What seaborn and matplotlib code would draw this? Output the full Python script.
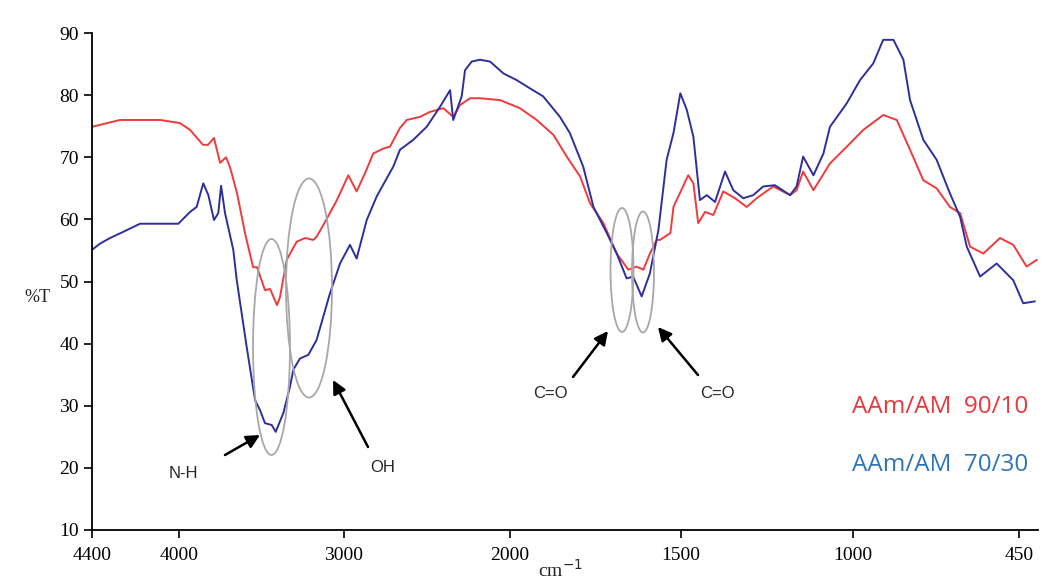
import numpy as np
import pandas as pd
import seaborn as sns
import matplotlib.pyplot as plt
from matplotlib.patches import Ellipse

# FTIR spectra (wavenumber cm-1, %T)
red_wn = [4400, 4271, 4087, 3994, 3933, 3855, 3824, 3788, 3751, 3715, 3691, 3648, 3600,
          3551, 3527, 3479, 3448, 3406, 3388, 3347, 3287, 3236, 3186, 3166, 3125, 3043,
          2974, 2924, 2874, 2824, 2763, 2723, 2663, 2622, 2542, 2482, 2402, 2342, 2301,
          2241, 2181, 2060, 1971, 1922, 1873, 1834, 1795, 1766, 1727, 1688, 1654, 1630,
          1610, 1591, 1571, 1561, 1531, 1522, 1479, 1464, 1450, 1430, 1406, 1377, 1343,
          1309, 1280, 1232, 1183, 1164, 1145, 1115, 1067, 1018, 966, 900, 855, 811, 767,
          723, 679, 645, 612, 568, 513, 469, 430, 403]
red_t = [74.9, 76.0, 76.0, 75.5, 74.4, 72.0, 72.0, 73.1, 69.1, 70.0, 68.4, 64.2, 57.8,
         52.3, 52.3, 48.6, 48.8, 46.2, 47.5, 53.5, 56.4, 57.0, 56.7, 57.2, 59.1, 63.1,
         67.1, 64.5, 67.4, 70.6, 71.4, 71.7, 74.7, 76.0, 76.5, 77.3, 77.9, 76.5, 78.4,
         79.5, 79.5, 79.2, 77.9, 76.0, 73.6, 70.1, 66.9, 62.6, 59.4, 54.5, 51.9, 52.4,
         51.9, 54.5, 56.7, 56.7, 57.8, 62.0, 67.1, 65.8, 59.4, 61.2, 60.7, 64.5, 63.4,
         62.0, 63.4, 65.3, 63.9, 64.7, 67.7, 64.7, 69.0, 71.7, 74.4, 76.8, 76.0, 71.2,
         66.3, 65.0, 62.0, 61.0, 55.6, 54.5, 57.0, 55.9, 52.4, 53.5]

blue_wn = [4400, 4363, 4317, 4256, 4179, 4003, 3933, 3893, 3853, 3822, 3788, 3762, 3745,
           3721, 3671, 3650, 3590, 3539, 3509, 3479, 3438, 3414, 3368, 3327, 3307, 3267,
           3216, 3166, 3085, 3024, 2964, 2924, 2863, 2803, 2703, 2663, 2583, 2502, 2422,
           2361, 2342, 2291, 2271, 2231, 2181, 2120, 2040, 1980, 1942, 1903, 1854, 1825,
           1786, 1756, 1717, 1688, 1659, 1640, 1615, 1591, 1566, 1542, 1522, 1502, 1483,
           1464, 1445, 1425, 1401, 1372, 1348, 1319, 1290, 1261, 1227, 1183, 1164, 1145,
           1115, 1086, 1067, 1018, 977, 933, 900, 866, 833, 811, 767, 723, 679, 645, 623,
           579, 524, 469, 439, 408]
blue_t = [55.1, 56.1, 57.0, 58.0, 59.3, 59.3, 61.2, 62.0, 65.8, 63.9, 59.9, 61.0, 65.4,
          61.0, 55.1, 50.2, 39.5, 30.9, 29.3, 27.2, 26.9, 25.8, 28.8, 33.1, 35.8, 37.6,
          38.2, 40.6, 48.1, 52.9, 55.9, 53.7, 59.9, 63.7, 68.5, 71.2, 72.8, 74.9, 78.1,
          80.8, 76.0, 79.8, 84.0, 85.4, 85.7, 85.4, 83.5, 82.4, 81.1, 79.8, 76.5, 73.9,
          68.5, 62.0, 57.8, 54.5, 50.5, 50.8, 47.6, 51.3, 58.3, 69.6, 73.9, 80.3, 77.6,
          73.3, 63.1, 63.9, 62.8, 67.7, 64.7, 63.4, 63.9, 65.3, 65.5, 63.9, 65.3, 70.1,
          67.1, 70.6, 74.9, 78.7, 82.4, 85.1, 88.9, 88.9, 85.7, 79.2, 72.8, 69.6, 64.2,
          60.4, 55.6, 50.8, 52.9, 50.2, 46.5, 46.8]

x_ticks = [4400, 4000, 3000, 2000, 1500, 1000, 450]
y_ticks = [10, 20, 30, 40, 50, 60, 70, 80, 90]

# the original axis is stretched unevenly between its tick marks
knot_wn = np.array([400, 450, 1000, 1500, 2000, 3000, 4000, 4400])
knot_pos = np.array([0, 19, 185, 357, 528, 694, 859, 946])


def forward(x):
    return np.interp(x, knot_wn, knot_pos, left=0, right=946)


def inverse(p):
    return np.interp(p, knot_pos, knot_wn)


red_df = pd.DataFrame({"wn": red_wn, "T": red_t})
blue_df = pd.DataFrame({"wn": blue_wn, "T": blue_t})

sns.set_style("ticks")
fig = plt.figure(figsize=(10.46, 5.83), dpi=100)
ax = fig.add_axes([92 / 1046, 53 / 583, 946 / 1046, 497 / 583])

sns.lineplot(data=red_df, x="wn", y="T", sort=False, estimator=None,
             color="#f03a3c", lw=1.4, ax=ax)
sns.lineplot(data=blue_df, x="wn", y="T", sort=False, estimator=None,
             color="#2f2f9c", lw=1.4, ax=ax)

ax.set_xscale("function", functions=(forward, inverse))
ax.set_xlim(4400, 400)
ax.set_ylim(10, 90)
ax.set_xticks(x_ticks)
ax.set_xticklabels([str(t) for t in x_ticks])
ax.set_yticks(y_ticks)
ax.minorticks_off()
ax.set_xlabel("")
ax.set_ylabel("")
for s in ["top", "right"]:
    ax.spines[s].set_visible(False)
for s in ["left", "bottom"]:
    ax.spines[s].set_color("black")
    ax.spines[s].set_linewidth(1.3)
ax.tick_params(axis="both", direction="out", length=6, width=1.2, colors="black",
               labelsize=14)
ax.tick_params(axis="x", pad=6)
for lab in ax.get_xticklabels() + ax.get_yticklabels():
    lab.set_family("Liberation Serif")

fig.text(37 / 1046, 1 - 297 / 583, "%T", fontsize=13, family="Liberation Serif",
         ha="center", va="center")
fig.text(560 / 1046, 1 - 570 / 583, "cm$^{-1}$", fontsize=14, family="Liberation Serif",
         ha="center", va="center")


def fx(px):
    return px / 1046


def fy(py):
    return 1 - py / 583


# gray ellipses around bands
ellipses = [(271.5, 347, 37, 216), (309, 288, 46, 219), (622, 270, 23, 124), (643, 272, 22, 121)]
for cx, cy, w, h in ellipses:
    e = Ellipse((fx(cx), fy(cy)), w / 1046, h / 583, transform=fig.transFigure,
                fill=False, edgecolor="#a8a8a8", lw=1.3, clip_on=False)
    fig.patches.append(e)

# arrows and labels
notes = [("N-H", (183, 473), (225, 455), (260, 435)),
         ("OH", (383, 467), (368, 447), (333, 380)),
         ("C=O", (550, 393), (573, 377), (608, 331)),
         ("C=O", (717, 393), (698, 375), (658, 327))]
for txt, tpos, tail, head in notes:
    fig.text(fx(tpos[0]), fy(tpos[1]), txt, fontsize=12, family="Liberation Sans",
             ha="center", va="center")
    ax.annotate("", xy=(fx(head[0]), fy(head[1])), xycoords="figure fraction",
                xytext=(fx(tail[0]), fy(tail[1])), textcoords="figure fraction",
                arrowprops=dict(arrowstyle="-|>", color="black", lw=1.8,
                                mutation_scale=20, shrinkA=0, shrinkB=0))

fig.text(fx(1028), fy(407), "AAm/AM  90/10", color="#e8383a", fontsize=17.5,
         family="Open Sans", ha="right", va="center")
fig.text(fx(1028), fy(465), "AAm/AM  70/30", color="#2e75b6", fontsize=17.5,
         family="Open Sans", ha="right", va="center")

fig.savefig("out.png", dpi=100)
